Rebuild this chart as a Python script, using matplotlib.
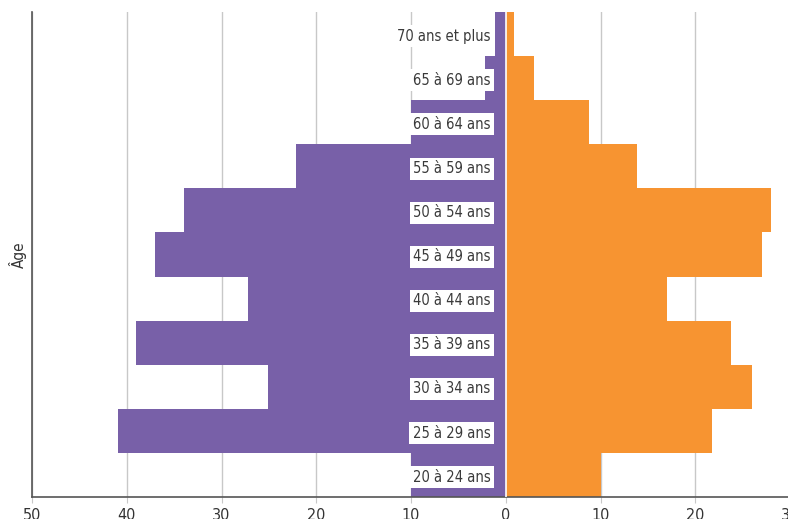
import matplotlib
matplotlib.use("Agg")
import matplotlib.pyplot as plt

plt.rcParams['font.family'] = ['DejaVu Sans']
plt.rcParams['font.stretch'] = 'condensed'

age_groups = ["20 à 24 ans", "25 à 29 ans", "30 à 34 ans", "35 à 39 ans", "40 à 44 ans",
              "45 à 49 ans", "50 à 54 ans", "55 à 59 ans", "60 à 64 ans", "65 à 69 ans",
              "70 ans et plus"]
left_values = [10.0, 40.9, 25.1, 39.0, 27.2, 37.0, 34.0, 22.1, 10.0, 2.2, 1.1]
right_values = [10.0, 21.8, 26.0, 23.8, 17.0, 27.0, 28.0, 13.8, 8.8, 3.0, 0.9]
tick_values = [-50, -40, -30, -20, -10, 0, 10, 20, 30]
tick_labels = ["50", "40", "30", "20", "10", "0", "10", "20", "30"]

purple = "#7860A8"
orange = "#F79431"

fig = plt.figure(figsize=(7.88, 5.19), dpi=100)
ax = fig.add_axes([32/788, 22/519, 758/788, 485/519])

ypos = list(range(len(age_groups)))
ax.barh(ypos, [-v for v in left_values], height=1.0, color=purple, zorder=2)
ax.barh(ypos, right_values, height=1.0, color=orange, zorder=2)
ax.axvline(0, color="white", lw=1.2, zorder=3)

for y, lab in zip(ypos, age_groups):
    ax.text(-1.6, y - 0.05, lab, ha="right", va="center", fontsize=10.5, color="#3a3a3a",
            fontstretch="condensed",
            bbox=dict(facecolor="white", edgecolor="none", pad=2.5), zorder=4)

ax.set_xlim(-50, 30)
ax.set_ylim(-0.5, len(age_groups) - 0.5)
ax.set_xticks(tick_values)
ax.set_xticklabels(tick_labels, fontsize=11.5, color="#333333", fontstretch="condensed")
ax.set_yticks([])
ax.grid(axis="x", color="#c8c8c8", lw=1, zorder=0)
ax.set_axisbelow(True)
ax.tick_params(axis="x", length=4, color="#c8c8c8", pad=4)
for s in ["top", "right"]:
    ax.spines[s].set_visible(False)
ax.spines["left"].set_color("#555555")
ax.spines["bottom"].set_color("#555555")
ax.spines["left"].set_linewidth(1.2)
ax.spines["bottom"].set_linewidth(1.2)
ax.set_ylabel("Âge", fontsize=11, color="#333333", labelpad=4, fontstretch="condensed")

fig.savefig("out.png", dpi=100)
